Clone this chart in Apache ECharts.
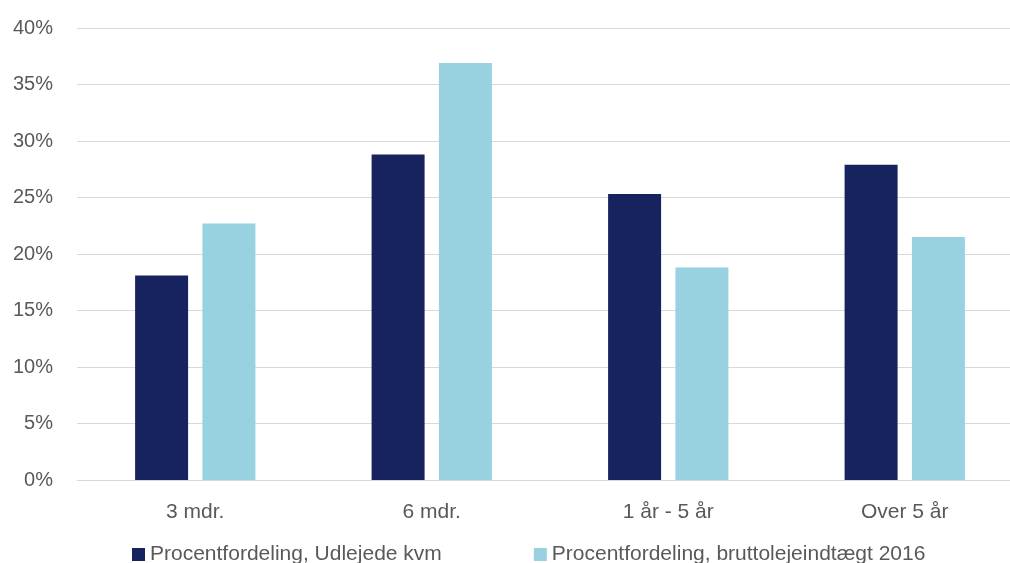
<!DOCTYPE html>
<html>
<head>
<meta charset="utf-8">
<script src="https://cdn.jsdelivr.net/npm/echarts@6/dist/echarts.min.js"></script>
<style>
html,body{margin:0;padding:0;background:#fff;}
#c{width:1010px;height:563px;}
</style>
</head>
<body>
<div id="c"></div>
<script>
const categories = ['3 mdr.', '6 mdr.', '1 år - 5 år', 'Over 5 år'];
const seriesNames = ['Procentfordeling, Udlejede kvm', 'Procentfordeling, bruttolejeindtægt 2016'];
const udlejedeKvm = [18.1, 28.8, 25.3, 27.9];
const bruttolejeindtaegt = [22.7, 36.9, 18.8, 21.5];
const yTicks = [0, 5, 10, 15, 20, 25, 30, 35, 40];

const font = "'Liberation Sans', Arial, sans-serif";
const chart = echarts.init(document.getElementById('c'), null, {renderer: 'canvas'});
chart.setOption({
  animation: false,
  backgroundColor: '#ffffff',
  grid: {left: 77, top: 28, width: 946, height: 452, containLabel: false, outerBoundsMode: 'none'},
  legend: {
    left: 127, top: 539,
    itemWidth: 13, itemHeight: 13, itemGap: 92,
    icon: 'rect',
    textStyle: {color: '#595959', fontSize: 21, fontFamily: font},
    data: seriesNames
  },
  xAxis: {
    type: 'category',
    data: categories,
    axisLine: {show: true, lineStyle: {color: '#d9d9d9', width: 1}},
    axisTick: {show: false},
    axisLabel: {color: '#595959', fontSize: 21, fontFamily: font, margin: 22}
  },
  yAxis: {
    type: 'value',
    min: yTicks[0], max: yTicks[yTicks.length - 1], interval: 5,
    axisLine: {show: false},
    axisTick: {show: false},
    splitLine: {lineStyle: {color: '#d9d9d9', width: 1}},
    axisLabel: {color: '#595959', fontSize: 20, fontFamily: font, margin: 24, formatter: '{value}%'}
  },
  series: [
    {name: seriesNames[0], type: 'bar', data: udlejedeKvm, barWidth: 53, barGap: '27%',
     itemStyle: {color: '#16235f'}},
    {name: seriesNames[1], type: 'bar', data: bruttolejeindtaegt, barWidth: 53,
     itemStyle: {color: '#98d2e1'}}
  ]
});
</script>
</body>
</html>
